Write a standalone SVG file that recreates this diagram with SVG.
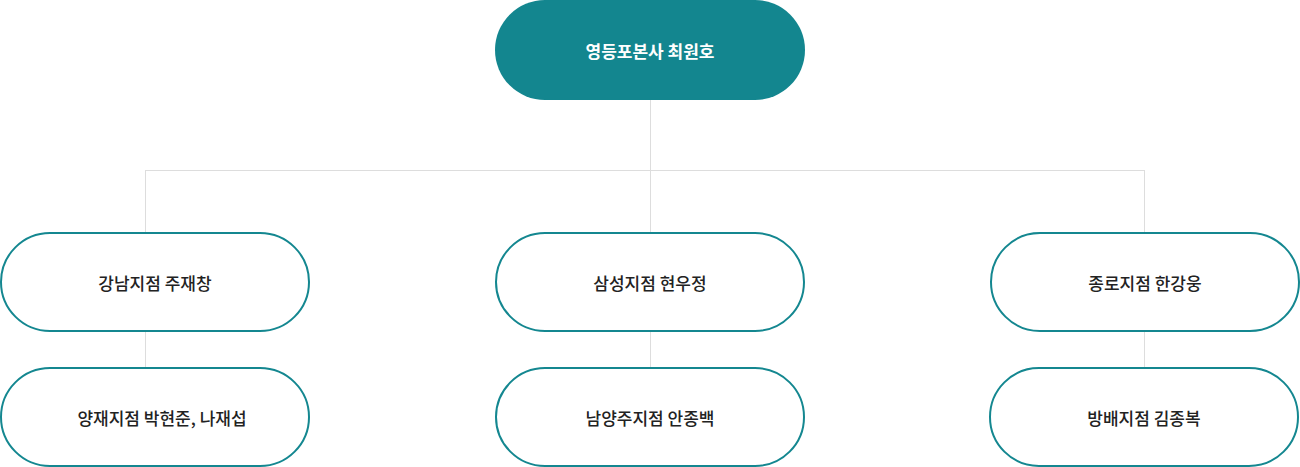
<svg xmlns="http://www.w3.org/2000/svg" width="1300" height="467" viewBox="0 0 1300 467">
<style>
.n rect{fill:#fff;stroke:#148790;stroke-width:2}
.t{font-family:"Noto Sans CJK KR",sans-serif;font-size:17px;fill:#222;text-anchor:middle;dominant-baseline:central;font-weight:500}
.c line{stroke:#dddddd;stroke-width:1}
</style>
<g class="c">
<line x1="650.5" y1="100" x2="650.5" y2="233"/>
<line x1="145.5" y1="170.5" x2="1144.5" y2="170.5"/>
<line x1="145.5" y1="170" x2="145.5" y2="233"/>
<line x1="1144.5" y1="170" x2="1144.5" y2="233"/>
<line x1="145.5" y1="331" x2="145.5" y2="368"/>
<line x1="650.5" y1="331" x2="650.5" y2="368"/>
<line x1="1144.5" y1="331" x2="1144.5" y2="368"/>
</g>
<g id="top"><rect x="495" y="0" width="310" height="100" rx="50" fill="#13868f"/><text class="t" x="650" y="50" style="fill:#fff;font-weight:700">영등포본사 최원호</text></g>
<g id="n1" class="n"><rect x="1" y="233" width="308" height="98" rx="49"/><text class="t" x="155" y="282">강남지점 주재창</text></g>
<g id="n2" class="n"><rect x="496" y="233" width="308" height="98" rx="49"/><text class="t" x="650" y="282">삼성지점 현우정</text></g>
<g id="n3" class="n"><rect x="991" y="233" width="308" height="98" rx="49"/><text class="t" x="1145" y="282">종로지점 한강웅</text></g>
<g id="n4" class="n"><rect x="1" y="368" width="308" height="98" rx="49"/><text class="t" x="162" y="417">양재지점 박현준, 나재섭</text></g>
<g id="n5" class="n"><rect x="496" y="368" width="308" height="98" rx="49"/><text class="t" x="650" y="417">남양주지점 안종백</text></g>
<g id="n6" class="n"><rect x="990" y="368" width="308" height="98" rx="49"/><text class="t" x="1144" y="417">방배지점 김종복</text></g>
</svg>
